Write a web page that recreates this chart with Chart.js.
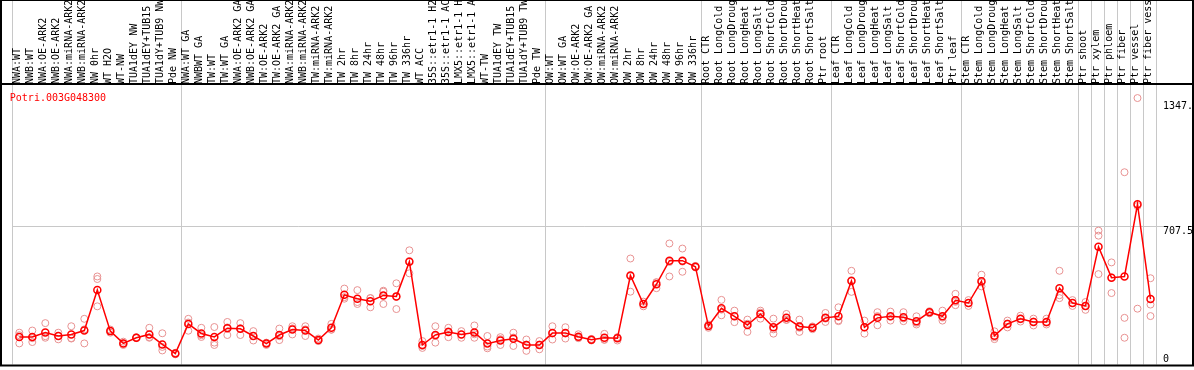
<!DOCTYPE html>
<html>
<head>
<meta charset="utf-8">
<script src="https://cdn.jsdelivr.net/npm/chart.js@4.4.1/dist/chart.umd.min.js"></script>
<style>
  html, body { margin: 0; padding: 0; background: #fff; }
  #wrap { width: 1194px; height: 370px; }
</style>
</head>
<body>
<div id="wrap"><canvas id="expr" width="1194" height="370"></canvas></div>
<script>
// expression profile for one gene, mean + replicates per sample

const geneId = 'Potri.003G048300';

const sampleLabels = [
  'NWA:WT', 'NWB:WT', 'NWA:OE-ARK2', 'NWB:OE-ARK2', 'NWA:miRNA-ARK2', 'NWB:miRNA-ARK2',
  'NW 0hr', 'WT H2O', 'WT-NW', 'TUA1dEY NW', 'TUA1dEY+TUB15 NW', 'TUA1dY+TUB9 NW', 'Pde NW',
  'NWA:WT GA', 'NWBWT GA', 'TW:WT', 'TW:WT GA', 'NWA:OE-ARK2 GA', 'NWB:OE-ARK2 GA',
  'TW:OE-ARK2', 'TW:OE-ARK2 GA', 'NWA:miRNA-ARK2', 'NWB:miRNA-ARK2', 'TW:miRNA-ARK2', 'TW:miRNA-ARK2',
  'TW 2hr', 'TW 8hr', 'TW 24hr', 'TW 48hr', 'TW 96hr', 'TW 336hr', 'WT ACC',
  '35S::etr1-1 H2O', '35S::etr1-1 ACC', 'LMX5::etr1-1 H2O', 'LMX5::etr1-1 ACC',
  'WT-TW', 'TUA1dEY TW', 'TUA1dEY+TUB15 TW', 'TUA1dY+TUB9 TW', 'Pde TW',
  'OW:WT', 'OW:WT GA', 'OW:OE-ARK2', 'OW:OE-ARK2 GA', 'OW:miRNA-ARK2', 'OW:miRNA-ARK2',
  'OW 2hr', 'OW 8hr', 'OW 24hr', 'OW 48hr', 'OW 96hr', 'OW 336hr',
  'Root CTR', 'Root LongCold', 'Root LongDrought', 'Root LongHeat', 'Root LongSalt',
  'Root ShortCold', 'Root ShortDrought', 'Root ShortHeat', 'Root ShortSalt', 'Ptr root',
  'Leaf CTR', 'Leaf LongCold', 'Leaf LongDrought', 'Leaf LongHeat', 'Leaf LongSalt',
  'Leaf ShortCold', 'Leaf ShortDrought', 'Leaf ShortHeat', 'Leaf ShortSalt', 'Ptr leaf',
  'Stem CTR', 'Stem LongCold', 'Stem LongDrought', 'Stem LongHeat', 'Stem LongSalt',
  'Stem ShortCold', 'Stem ShortDrought', 'Stem ShortHeat', 'Stem ShortSalt',
  'Ptr shoot', 'Ptr xylem', 'Ptr phloem', 'Ptr fiber', 'Ptr vessel', 'Ptr fiber vessel'
];

const meanValues = [
  141, 141, 164, 146, 154, 174, 382, 171, 108, 137, 154, 103, 56,
  208, 159, 141, 186, 183, 146, 107, 151, 179, 174, 125, 188, 357, 337, 324, 354, 349, 527, 100,
  151, 166, 154, 164, 107, 123, 132, 100, 100,
  161, 161, 142, 127, 137, 134, 456, 310, 411, 532, 532, 501,
  197, 288, 247, 202, 259, 191, 239, 195, 188, 239,
  247, 428, 191, 239, 247, 242, 222, 268, 247, 329,
  315, 427, 147, 208, 234, 218, 218, 391, 315,
  300, 603, 445, 451, 821, 335
];

const rep1 = [
  163, 174, 212, 163, 196, 234, 451, 179, 117, 137, 188, 160, 56,
  234, 188, 192, 218, 212, 171, 100, 184, 196, 196, 133, 208, 389, 381, 340, 378, 416, 585, 95,
  196, 188, 171, 200, 146, 140, 163, 128, 120,
  196, 191, 155, 123, 157, 123, 543, 298, 391, 620, 594, 505,
  188, 331, 276, 230, 276, 235, 259, 230, 188, 264,
  293, 480, 225, 268, 271, 268, 247, 273, 276, 362,
  330, 460, 170, 225, 250, 235, 235, 480, 330,
  320, 686, 523, 985, 1365, 442
];

const rep2 = [
  108, 115, 137, 129, 133, 108, 438, 163, 100, 140, 137, 90, 60,
  173, 141, 112, 151, 151, 123, 112, 125, 154, 146, 120, 179, 337, 310, 293, 310, 284, 467, 120,
  112, 140, 137, 137, 83, 100, 95, 70, 78,
  128, 133, 135, 127, 128, 140, 373, 322, 420, 451, 475, 497,
  205, 252, 217, 167, 235, 158, 230, 167, 195, 218,
  222, 372, 158, 201, 225, 222, 205, 262, 225, 304,
  300, 400, 130, 190, 220, 200, 205, 340, 300,
  280, 660, 366, 239, 286, 307
];

const rep3 = [
  150, 135, 145, 146, 135, 180, 298, 171, 108, 135, 140, 72, 52,
  215, 150, 100, 190, 185, 146, 108, 145, 185, 180, 122, 178, 345, 320, 340, 373, 347, 530, 85,
  146, 170, 154, 155, 92, 130, 138, 102, 102,
  159, 159, 137, 131, 126, 139, 452, 310, 422, 525, 527, 501,
  198, 281, 248, 209, 266, 180, 228, 188, 181, 235,
  226, 432, 190, 248, 245, 236, 214, 269, 240, 321,
  315, 420, 140, 210, 232, 220, 215, 355, 315,
  300, 463, 446, 137, 812, 248
];

const yTickValues = [0, 707.5, 1347.5];
const yTickLabels = ['0', '707.5', '1347.5'];
const yMax = 1437;

// grid line before these sample indexes (group separators)
const groupEdges = [0, 13, 41, 53, 63, 73, 82, 83, 84, 85, 86, 87, 88];

const MONO = 'DejaVu Sans Mono';
const GRID_GRAY = '#c8c8c8';

/* ── frame + gene id ── */
const framePlugin = {
  id: 'frame',
  afterDraw(chart) {
    const { ctx, chartArea } = chart;
    ctx.save();
    ctx.strokeStyle = '#000';
    ctx.lineWidth = 2;
    ctx.strokeRect(1, 0, chart.width - 2, chartArea.bottom + 1);
    ctx.beginPath();
    ctx.moveTo(0, chartArea.top);
    ctx.lineTo(chart.width, chartArea.top);
    ctx.stroke();

    ctx.fillStyle = '#ff0000';
    ctx.font = '10px "' + MONO + '"';
    ctx.textBaseline = 'alphabetic';
    ctx.textAlign = 'left';
    ctx.fillText(geneId, chartArea.left - 3, chartArea.top + 17);
    ctx.restore();
  }
};

function edgeColor(c) {
  const idx = c.type === 'tick' ? c.index : sampleLabels.length;
  return groupEdges.includes(idx) ? GRID_GRAY : 'rgba(0,0,0,0)';
}

function repSet(label, data) {
  return {
    label,
    data,
    showLine: false,
    pointRadius: 3.5,
    pointBorderWidth: 1,
    pointBorderColor: '#e89292',
    pointBackgroundColor: 'rgba(0,0,0,0)'
  };
}

new Chart(document.getElementById('expr'), {
  type: 'line',
  data: {
    labels: sampleLabels,
    datasets: [
      {
        label: 'mean',
        data: meanValues,
        borderColor: '#ff0000',
        borderWidth: 1.5,
        tension: 0,
        pointRadius: 3.5,
        pointBorderWidth: 1.5,
        pointBorderColor: '#ff0000',
        pointBackgroundColor: 'rgba(0,0,0,0)'
      },
      repSet('rep1', rep1),
      repSet('rep2', rep2),
      repSet('rep3', rep3)
    ]
  },
  options: {
    responsive: false,
    animation: false,
    events: [],
    layout: { padding: { left: 12.8, right: 0, top: 0, bottom: 3 } },
    plugins: {
      legend: { display: false },
      tooltip: { enabled: false }
    },
    scales: {
      x: {
        type: 'category',
        position: 'top',
        offset: true,
        grid: {
          offset: true,
          drawTicks: true,
          tickLength: 84,
          lineWidth: 1,
          color: edgeColor,
          tickColor: edgeColor
        },
        border: { display: false },
        ticks: {
          autoSkip: false,
          maxRotation: 90,
          minRotation: 90,
          padding: -84,
          labelOffset: 10,
          color: '#000',
          font: { family: MONO, size: 10 }
        },
        afterFit: s => { s.height = 84; }
      },
      y: {
        position: 'right',
        min: 0,
        max: yMax,
        grid: {
          drawTicks: true,
          tickLength: 6,
          color: c => (c.tick && c.tick.value === 707.5) ? GRID_GRAY : 'rgba(0,0,0,0)'
        },
        border: { display: false },
        afterBuildTicks: s => { s.ticks = yTickValues.map(v => ({ value: v })); },
        ticks: {
          padding: 0,
          labelOffset: 5,
          color: '#000',
          font: { family: MONO, size: 10, lineHeight: 2 },
          callback: (v, i) => i === 0 ? [yTickLabels[0], ''] : yTickLabels[i]
        },
        afterFit: s => {
          s.width = 37;
          s.paddingTop = 0;
          s.paddingBottom = 0;
        }
      }
    }
  },
  plugins: [framePlugin]
});
</script>
</body>
</html>
